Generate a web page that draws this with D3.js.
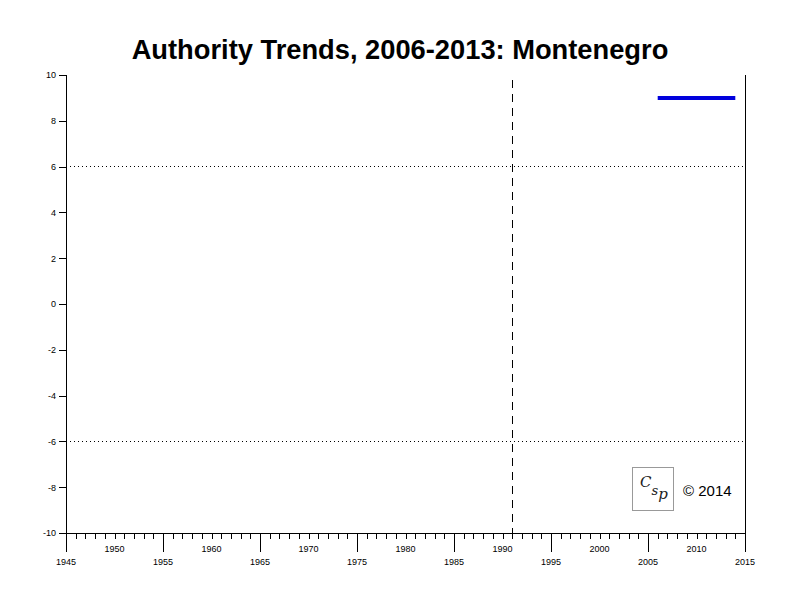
<!DOCTYPE html>
<html><head><meta charset="utf-8">
<script src="https://cdn.jsdelivr.net/npm/d3@7"></script>
<style>body{margin:0;background:#fff}svg{display:block}</style>
</head><body>
<svg id="c" width="800" height="600"></svg>
<script>
const title = "Authority Trends, 2006-2013: Montenegro";
const yTicks = [10, 8, 6, 4, 2, 0, -2, -4, -6, -8, -10];
const xDomain = [1945, 2015];
const xLabelYears = [1945, 1950, 1955, 1960, 1965, 1970, 1975, 1980, 1985, 1990, 1995, 2000, 2005, 2010, 2015];
const years = [2006, 2007, 2008, 2009, 2010, 2011, 2012, 2013, 2014];
const authority = [9, 9, 9, 9, 9, 9, 9, 9, 9];
const refLinesY = [6, -6];
const refYear = 1991;
const copyright = "© 2014";

const svg = d3.select("#c");
const L = 66, R = 745, T = 75, B = 533;
const x = d3.scaleLinear().domain(xDomain).range([L, R]);
const y = d3.scaleLinear().domain([-10, 10]).range([B, T]);
const font = "Liberation Sans, Arial, sans-serif";

// title
const t = svg.append("text").attr("x", 400).attr("y", 59).attr("text-anchor", "middle")
  .attr("font-family", font).attr("font-weight", "bold").attr("font-size", 24).text(title);
const w = t.node().getComputedTextLength();
t.attr("font-size", 24 * 537 / w);

// reference lines
svg.selectAll(".ref").data(refLinesY).enter().append("line")
  .attr("x1", L).attr("x2", R).attr("y1", d => y(d)).attr("y2", d => y(d))
  .attr("stroke", "#000").attr("stroke-width", 1).attr("stroke-dasharray", "1,3")
  .attr("shape-rendering", "crispEdges");
svg.append("line").attr("x1", x(refYear)).attr("x2", x(refYear)).attr("y1", T + 5).attr("y2", B)
  .attr("stroke", "#000").attr("stroke-dasharray", "8,6").attr("shape-rendering", "crispEdges");

// y axis
const yAxis = svg.append("g").attr("transform", `translate(${L},0)`)
  .call(d3.axisLeft(y).tickValues(yTicks).tickSize(7).tickPadding(3).tickFormat(d => String(d)));
yAxis.select(".domain").attr("d", `M0,${T}V${B}`);
yAxis.selectAll("text").attr("font-family", font).attr("font-size", 9).attr("fill", "#000");
yAxis.attr("shape-rendering", "crispEdges");

// right border
svg.append("line").attr("x1", R).attr("x2", R).attr("y1", T).attr("y2", B)
  .attr("stroke", "#000").attr("shape-rendering", "crispEdges");

// x axis minor ticks
const xAxis = svg.append("g").attr("transform", `translate(0,${B})`)
  .call(d3.axisBottom(x).tickValues(d3.range(xDomain[0], xDomain[1] + 1)).tickSize(6).tickFormat(""));
xAxis.select(".domain").attr("d", `M${L},0H${R}`);
xAxis.attr("shape-rendering", "crispEdges");
// labeled ticks: alternate levels
const lab = svg.append("g").attr("transform", `translate(0,${B})`);
lab.selectAll("line").data(xLabelYears.filter(d => (d - 1945) % 10 === 0)).enter().append("line")
  .attr("x1", d => x(d)).attr("x2", d => x(d)).attr("y1", 0).attr("y2", 19)
  .attr("stroke", "#000").attr("shape-rendering", "crispEdges");
lab.selectAll("text").data(xLabelYears).enter().append("text")
  .attr("x", d => x(d)).attr("y", d => (d - 1945) % 10 === 0 ? 32 : 19)
  .attr("text-anchor", "middle").attr("font-family", font).attr("font-size", 9).text(d => d);

// data line
svg.append("path").datum(years.map((d, i) => [d, authority[i]]))
  .attr("d", d3.line().x(d => x(d[0])).y(d => y(d[1])))
  .attr("fill", "none").attr("stroke", "#0000dd").attr("stroke-width", 4);

// logo
const lg = svg.append("g").attr("transform", "translate(632,467)");
lg.append("rect").attr("x", 0.5).attr("y", 0.5).attr("width", 41).attr("height", 43)
  .attr("fill", "#fff").attr("stroke", "#999").attr("stroke-width", 1);
const lt = lg.append("text").attr("x", 8).attr("y", 20).attr("font-family", "DejaVu Serif, serif")
  .attr("font-style", "italic").attr("font-size", 15).attr("fill", "#222");
lt.append("tspan").text("C");
lt.append("tspan").attr("dy", 8).attr("font-size", 13).text("s");
lt.append("tspan").attr("dy", 4).text("p");
svg.append("text").attr("x", 683).attr("y", 496).attr("font-family", font).attr("font-size", 15).text(copyright);
</script>
</body></html>
